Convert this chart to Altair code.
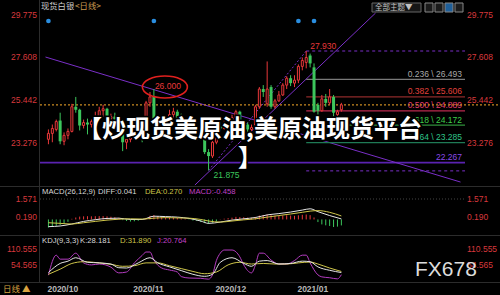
import altair as alt
import pandas as pd

# ---------------- data ----------------
opens = [23.45, 23.75, 23.95, 24.40, 23.35, 23.65, 23.85, 25.10, 24.95, 24.15,
         24.30, 24.20, 24.35, 24.60, 24.90, 25.00, 24.50, 24.60, 24.45, 24.20,
         23.30, 23.45, 23.70, 24.00, 24.25, 23.90, 25.30, 25.60, 24.15, 24.00,
         24.20, 24.35, 24.70, 24.85, 24.55, 24.30, 24.05, 24.15, 23.50, 23.75,
         23.55, 22.80, 22.60, 23.30, 24.15, 24.00, 24.25, 24.10, 24.55, 24.85,
         24.00, 24.20, 23.95, 24.05, 25.10, 26.00, 25.25, 26.10, 25.10, 25.40,
         25.70, 26.20, 26.55, 26.30, 26.45, 27.15, 27.35, 27.70, 27.10, 25.20,
         24.90, 25.50, 25.30, 25.60, 24.70, 24.95]
highs = [23.95, 24.20, 24.45, 24.80, 23.80, 24.00, 25.25, 25.60, 25.00, 24.45,
         24.50, 24.45, 24.85, 25.10, 25.20, 25.05, 24.75, 24.80, 24.60, 24.30,
         23.70, 23.80, 24.10, 24.45, 24.30, 25.40, 25.85, 26.00, 24.35, 24.30,
         24.45, 24.95, 25.05, 24.95, 24.75, 24.35, 24.25, 24.20, 23.90, 23.95,
         23.60, 22.95, 23.45, 24.25, 24.35, 24.40, 24.35, 24.70, 24.95, 24.90,
         24.30, 24.30, 24.20, 25.20, 26.10, 26.20, 27.40, 26.20, 25.50, 25.90,
         26.30, 26.65, 26.70, 26.70, 27.25, 27.60, 27.93, 27.80, 27.30, 25.30,
         25.70, 25.75, 26.00, 25.70, 24.95, 25.30]
lows = [23.20, 23.30, 23.85, 23.20, 23.15, 23.45, 23.80, 24.80, 23.90, 24.00,
        23.70, 24.05, 24.15, 24.50, 24.60, 24.35, 24.30, 24.30, 24.00, 22.85,
        22.95, 23.30, 23.55, 23.85, 23.30, 23.85, 25.10, 23.85, 23.55, 23.90,
        24.05, 24.20, 24.45, 24.40, 24.05, 23.90, 23.85, 23.40, 23.40, 23.40,
        22.70, 21.875, 22.50, 23.20, 23.85, 23.95, 23.90, 24.05, 24.45, 23.90,
        23.80, 23.70, 23.60, 23.95, 25.00, 25.60, 25.10, 25.00, 25.00, 25.35,
        25.65, 26.00, 26.15, 26.10, 26.30, 26.95, 27.05, 27.10, 24.80, 24.45,
        24.85, 25.10, 25.20, 24.60, 24.50, 24.85]
closes = [23.75, 24.00, 24.35, 23.35, 23.65, 23.85, 25.10, 24.95, 24.15, 24.30,
          24.20, 24.35, 24.60, 24.90, 25.00, 24.50, 24.60, 24.45, 24.20, 23.30,
          23.45, 23.70, 24.00, 24.25, 23.90, 25.30, 25.60, 24.15, 24.00, 24.20,
          24.35, 24.70, 24.85, 24.55, 24.30, 24.05, 24.15, 23.50, 23.75, 23.55,
          22.80, 22.60, 23.30, 24.15, 24.00, 24.25, 24.10, 24.55, 24.85, 24.00,
          24.20, 23.95, 24.05, 25.10, 26.00, 25.85, 26.00, 25.10, 25.40, 25.70,
          26.20, 26.55, 26.30, 26.45, 27.15, 27.45, 27.60, 27.30, 24.85, 24.90,
          25.50, 25.30, 25.60, 24.80, 24.85, 25.20]

macd_hist = [-0.62, -0.55, -0.48, -0.42, -0.32, -0.18,
             0.05, 0.15, 0.22, 0.24, 0.25, 0.24, 0.25, 0.26, 0.26, 0.24, 0.21, 0.17, 0.12,
             -0.05, -0.12, -0.16, -0.14, -0.10, -0.04,
             0.12, 0.28, 0.34, 0.26,
             0.20, 0.17, 0.15, 0.14, 0.12, 0.08, 0.04,
             -0.03, -0.08, -0.12, -0.20, -0.28, -0.33, -0.25, -0.15,
             0.02, 0.06, 0.10, 0.14, 0.20, 0.18, 0.17, 0.14, 0.13, 0.20,
             0.30, 0.34, 0.38, 0.33, 0.30, 0.30, 0.30, 0.32, 0.30, 0.28,
             0.32, 0.36, 0.38, 0.33, 0.15,
             -0.20, -0.38, -0.45, -0.50, -0.58, -0.55, -0.458]

diff_idx = [0, 3, 6, 9, 12, 15, 18, 21, 24, 27, 30, 33, 36, 39, 41, 44, 47, 50, 53,
            56, 59, 62, 65, 67, 69, 72, 75]
diff_val = [-0.55, -0.50, -0.35, -0.15, -0.02, 0.08, 0.10, 0.00, 0.00, 0.25, 0.22,
            0.18, 0.08, -0.12, -0.30, -0.20, -0.05, 0.05, 0.15, 0.35, 0.45, 0.57,
            0.72, 0.82, 0.60, 0.30, 0.041]
dea_idx = diff_idx
dea_val = [-0.25, -0.30, -0.35, -0.25, -0.15, -0.05, 0.02, 0.05, 0.03, 0.10, 0.14,
           0.12, 0.10, 0.00, -0.12, -0.20, -0.12, -0.03, 0.05, 0.18, 0.30, 0.42,
           0.55, 0.64, 0.68, 0.55, 0.270]

j_idx = [0, 2, 3, 5, 7, 9, 11, 13, 16, 18, 20, 22, 24, 25, 26, 27, 29, 31, 33, 34,
         36, 39, 41, 42, 43, 44, 45, 47, 49, 50, 52, 53, 54, 55, 57, 59, 61, 63, 65,
         66, 67, 69, 70, 72, 74, 75]
j_val = [19, 89, 75, 75, 96, 62, 55, 58, 47, 27, 30, 62, 88, 100, 100, 72, 44, 37, 30,
         14, 9, 8, 5, 20, 70, 96, 107, 107, 83, 55, 27, 55, 96, 96, 72, 58, 58, 70, 89,
         89, 62, 20, 13, 10, 6, 20.764]
k_idx = [0, 3, 5, 7, 10, 13, 16, 18, 20, 23, 26, 28, 31, 34, 37, 40, 42, 44, 47, 50,
         52, 54, 56, 59, 62, 65, 67, 69, 72, 75]
k_val = [28, 60, 68, 80, 64, 62, 58, 45, 44, 62, 80, 62, 48, 35, 22, 15, 22, 64, 80,
         60, 50, 68, 70, 58, 60, 68, 66, 48, 36, 28.181]
d_idx = [0, 3, 6, 9, 13, 16, 19, 22, 25, 28, 31, 34, 37, 40, 43, 46, 49, 52, 55, 58,
         61, 64, 67, 69, 72, 75]
d_val = [22, 40, 60, 66, 62, 57, 50, 52, 62, 62, 52, 42, 32, 24, 30, 55, 64, 58, 60,
         58, 58, 62, 65, 58, 44, 31.89]

price_ticks = [29.775, 27.608, 25.442, 23.276]
macd_ticks = [1.571, 0.190]
kdj_ticks = [110.555, 54.565]
date_labels = ["2020/10", "2020/11", "2020/12", "2021/01"]
date_label_idx = [0, 22, 43, 64]
event_idx = [0, 27, 64, 68]

fib_ratios = ["0.236", "0.382", "0.500", "0.618", "0.764"]
fib_prices = [26.493, 25.606, 24.889, 24.172, 23.285]
fib_line_colors = ["#7a7a7a", "#8e2a2a", "#b8284e", "#2f8f3a", "#1f7a55"]
fib_text_colors = ["#a9a9a9", "#e0403c", "#e23c6e", "#3fcc4a", "#2fc488"]
fib_high, fib_low = 27.930, 21.848
support_price = 22.267
low_price = 21.875
nov_peak_price = 26.000
peak_idx, low_idx, nov_peak_idx = 66, 41, 27

down_line_idx = [-0.75, 105.5]
down_line_price = [27.624, 21.282]
channel_idx = [37.5, 83.75]
channel_price = [21.13, 29.856]

# ---------------- styling ----------------
RED = "#e8383a"
GREEN = "#3cc65c"
AXRED = "#d8383c"
PURPLE = "#7a2fc8"
NUM = "Liberation Sans"
CJK = "Noto Sans CJK SC"

X_SCALE = alt.Scale(domain=[-0.75, 105.5], range=[40.5, 465.5], nice=False, zero=False)
P_SCALE = alt.Scale(domain=[21.0, 30.0], range=[187.6, 10.2], nice=False, zero=False)
M_SCALE = alt.Scale(domain=[-1.3, 2.5], range=[236.4, 186.9], nice=False, zero=False)
K_SCALE = alt.Scale(domain=[-10, 160], range=[283.45, 234.87], nice=False, zero=False)

ONE = pd.DataFrame({"a": [0]})


def X(f):
    return alt.X(f, type="quantitative", scale=X_SCALE, axis=None)


def Y(f, sc):
    return alt.Y(f, type="quantitative", scale=sc, axis=None)


def ptext(txt, x, y, color, size=8.5, align="left", font=NUM, weight="normal"):
    return alt.Chart(ONE).mark_text(text=txt, align=align, baseline="middle",
                                    font=font, fontSize=size, color=color,
                                    fontWeight=weight).encode(
        x=alt.value(x), y=alt.value(y))


def prule(x1, x2, y1, y2, color, width=1, dash=None):
    kw = dict(color=color, strokeWidth=width)
    if dash:
        kw["strokeDash"] = dash
    return alt.Chart(ONE).mark_rule(**kw).encode(
        x=alt.value(x1), x2=alt.value(x2), y=alt.value(y1), y2=alt.value(y2))


layers = []

# frame lines
layers += [
    prule(0, 500, 186.5, 186.5, "#2c2c2c"),
    prule(0, 500, 235.5, 235.5, "#2c2c2c"),
    prule(0, 500, 282.5, 282.5, "#2c2c2c"),
    prule(39.5, 39.5, 0, 283, "#2c2c2c"),
]

# dotted grid in MACD panel
gdf = pd.DataFrame({"v": [macd_ticks[0]]})
layers.append(alt.Chart(gdf).mark_rule(color="#444", strokeDash=[1, 2]).encode(
    x=alt.value(40), x2=alt.value(465), y=Y("v", M_SCALE)))

# horizontal support line
sdf = pd.DataFrame({"p": [support_price], "t": [f"{support_price:.3f}"]})
layers.append(alt.Chart(sdf).mark_rule(color="#5a22b0", strokeWidth=1.6).encode(
    x=alt.value(40), x2=alt.value(465), y=Y("p", P_SCALE)))
layers.append(alt.Chart(sdf).mark_text(align="right", baseline="middle", dy=-5.5,
                                       font=NUM, fontSize=8.5, color="#8a4ae8").encode(
    x=alt.value(462), y=Y("p", P_SCALE), text="t:N"))

# trend lines
dl = pd.DataFrame({"i": down_line_idx, "p": down_line_price})
layers.append(alt.Chart(dl).mark_line(color=PURPLE, strokeWidth=1, clip=False).encode(
    x=X("i"), y=Y("p", P_SCALE)))
cl = pd.DataFrame({"i": channel_idx, "p": channel_price})
layers.append(alt.Chart(cl).mark_line(color=PURPLE, strokeWidth=1).encode(
    x=X("i"), y=Y("p", P_SCALE)))
fl = pd.DataFrame({"i": [low_idx, peak_idx], "p": [low_price, fib_high]})
layers.append(alt.Chart(fl).mark_line(color=PURPLE, strokeWidth=1, strokeDash=[2, 2]).encode(
    x=X("i"), y=Y("p", P_SCALE)))

# fibonacci levels
fdf = pd.DataFrame({"i": [peak_idx] * 5, "p": fib_prices, "lc": fib_line_colors,
                    "tc": fib_text_colors,
                    "t": [f"{r} \\ {p:.3f}" for r, p in zip(fib_ratios, fib_prices)]})
layers.append(alt.Chart(fdf).mark_rule(strokeWidth=1.2).encode(
    x=X("i"), x2=alt.value(465), y=Y("p", P_SCALE), color=alt.Color("lc:N", scale=None)))
layers.append(alt.Chart(fdf).mark_text(align="right", baseline="middle", dy=-5.5,
                                       font=NUM, fontSize=8.5).encode(
    x=alt.value(462), y=Y("p", P_SCALE), text="t:N", color=alt.Color("tc:N", scale=None)))
edf = pd.DataFrame({"i": [peak_idx, peak_idx], "p": [fib_high, fib_low]})
layers.append(alt.Chart(edf).mark_rule(color=PURPLE, strokeDash=[3, 3]).encode(
    x=X("i"), x2=alt.value(465), y=Y("p", P_SCALE)))

# last price dotted line
lp = pd.DataFrame({"p": [closes[-1]]})
layers.append(alt.Chart(lp).mark_rule(color="#c98a22", strokeDash=[2, 2], strokeWidth=1.2).encode(
    x=alt.value(40), x2=alt.value(500), y=Y("p", P_SCALE)))

# candles
cdf = pd.DataFrame({"i": range(len(closes)), "o": opens, "h": highs, "l": lows, "c": closes})
up = cdf[cdf.c >= cdf.o]
dn = cdf[cdf.c < cdf.o]
layers.append(alt.Chart(up).mark_rule(color=RED, strokeWidth=1).encode(
    x=X("i"), y=Y("l", P_SCALE), y2="h:Q"))
layers.append(alt.Chart(dn).mark_rule(color=GREEN, strokeWidth=1).encode(
    x=X("i"), y=Y("l", P_SCALE), y2="h:Q"))
layers.append(alt.Chart(up).mark_bar(size=2, fill="#000", stroke=RED, strokeWidth=1).encode(
    x=X("i"), y=Y("o", P_SCALE), y2="c:Q"))
layers.append(alt.Chart(dn).mark_bar(size=3, color=GREEN).encode(
    x=X("i"), y=Y("o", P_SCALE), y2="c:Q"))

# annotations on candles
ndf = pd.DataFrame({"i": [nov_peak_idx], "p": [nov_peak_price], "t": [f"{nov_peak_price:.3f}"]})
layers.append(alt.Chart(ndf).mark_text(align="center", baseline="middle", dx=14, dy=-3,
                                       font=NUM, fontSize=8.5, color=RED).encode(
    x=X("i"), y=Y("p", P_SCALE), text="t:N"))
layers.append(alt.Chart(ndf).mark_point(
    shape="M -1 0 A 1 0.49 0 1 1 1 0 A 1 0.49 0 1 1 -1 0 Z", size=2025, filled=False,
    color="#e0201e", strokeWidth=1.6, opacity=1, xOffset=11, yOffset=-2).encode(
    x=X("i"), y=Y("p", P_SCALE)))
pdf_ = pd.DataFrame({"i": [peak_idx], "p": [fib_high], "t": [f"{fib_high:.3f}"]})
layers.append(alt.Chart(pdf_).mark_text(align="left", baseline="middle", dx=4, dy=-5,
                                        font=NUM, fontSize=8.5, color=RED).encode(
    x=X("i"), y=Y("p", P_SCALE), text="t:N"))
ldf = pd.DataFrame({"i": [low_idx], "p": [low_price], "t": [f"{low_price:.3f}"]})
layers.append(alt.Chart(ldf).mark_text(align="left", baseline="middle", dx=5, dy=5,
                                       font=NUM, fontSize=8.5, color=GREEN).encode(
    x=X("i"), y=Y("p", P_SCALE), text="t:N"))

# event dots
evdf = pd.DataFrame({"i": event_idx})
layers.append(alt.Chart(evdf).mark_circle(size=22, color="#2a8ee0", opacity=1).encode(
    x=X("i"), y=alt.value(21)))

# price axis labels
pt = pd.DataFrame({"v": price_ticks, "t": [f"{v:.3f}" for v in price_ticks]})
layers.append(alt.Chart(pt).mark_text(align="right", baseline="middle", font=NUM,
                                      fontSize=8.5, color=AXRED).encode(
    x=alt.value(37), y=Y("v", P_SCALE), text="t:N"))
layers.append(alt.Chart(pt).mark_text(align="left", baseline="middle", font=NUM,
                                      fontSize=8.5, color=AXRED).encode(
    x=alt.value(467), y=Y("v", P_SCALE), text="t:N"))

# ---------- MACD panel ----------
mdf = pd.DataFrame({"i": range(len(macd_hist)), "v": macd_hist, "z": [0.0] * len(macd_hist)})
mdf["col"] = [RED if v >= 0 else GREEN for v in macd_hist]
layers.append(alt.Chart(mdf).mark_rule(strokeWidth=1).encode(
    x=X("i"), y=Y("z", M_SCALE), y2="v:Q", color=alt.Color("col:N", scale=None)))
ddf = pd.DataFrame({"i": diff_idx, "v": diff_val})
layers.append(alt.Chart(ddf).mark_line(color="#e6e6e6", strokeWidth=1, interpolate="monotone").encode(
    x=X("i"), y=Y("v", M_SCALE)))
eadf = pd.DataFrame({"i": dea_idx, "v": dea_val})
layers.append(alt.Chart(eadf).mark_line(color="#cfc64a", strokeWidth=1, interpolate="monotone").encode(
    x=X("i"), y=Y("v", M_SCALE)))
mt = pd.DataFrame({"v": macd_ticks, "t": [f"{v:.3f}" for v in macd_ticks]})
layers.append(alt.Chart(mt).mark_text(align="right", baseline="middle", font=NUM,
                                      fontSize=8.5, color=AXRED).encode(
    x=alt.value(37), y=Y("v", M_SCALE), text="t:N"))
layers.append(alt.Chart(mt).mark_text(align="left", baseline="middle", font=NUM,
                                      fontSize=8.5, color=AXRED).encode(
    x=alt.value(467), y=Y("v", M_SCALE), text="t:N"))

# ---------- KDJ panel ----------
for xi, yv, col in [(j_idx, j_val, "#b43cc0"), (d_idx, d_val, "#cfc64a"), (k_idx, k_val, "#e6e6e6")]:
    kd = pd.DataFrame({"i": xi, "v": yv})
    layers.append(alt.Chart(kd).mark_line(color=col, strokeWidth=1, interpolate="monotone").encode(
        x=X("i"), y=Y("v", K_SCALE)))
kt = pd.DataFrame({"v": kdj_ticks, "t": [f"{v:.3f}" for v in kdj_ticks]})
layers.append(alt.Chart(kt).mark_text(align="right", baseline="middle", font=NUM,
                                      fontSize=8.5, color=AXRED).encode(
    x=alt.value(37), y=Y("v", K_SCALE), text="t:N"))
layers.append(alt.Chart(kt).mark_text(align="left", baseline="middle", font=NUM,
                                      fontSize=8.5, color=AXRED).encode(
    x=alt.value(467), y=Y("v", K_SCALE), text="t:N"))

# date labels
dtl = pd.DataFrame({"i": date_label_idx, "t": date_labels})
layers.append(alt.Chart(dtl).mark_text(align="left", baseline="middle", font=NUM,
                                       fontSize=8.5, fontWeight="bold", color="#b8b8b8", dx=-1).encode(
    x=X("i"), y=alt.value(289), text="t:N"))

# ---------- headers / texts ----------
layers += [
    ptext("现货白银", 41, 7, "#cfcfcf", size=8.3, font=CJK),
    ptext("<日线>", 75, 7, "#c89a50", size=8.3, font=CJK),
    ptext("MACD(26,12,9)", 42, 192, "#d8d8d8", size=7.7),
    ptext("DIFF:0.041", 98, 192, "#d8d8d8", size=7.7),
    ptext("DEA:0.270", 145, 192, "#cfc64a", size=7.7),
    ptext("MACD:-0.458", 189, 192, "#c040c8", size=7.7),
    ptext("KDJ(9,3,3)", 42, 241, "#d8d8d8", size=7.7),
    ptext("K:28.181", 80, 241, "#d8d8d8", size=7.7),
    ptext("D:31.890", 120, 241, "#cfc64a", size=7.7),
    ptext("J:20.764", 157, 241, "#c040c8", size=7.7),
    ptext("日线 ▲", 3, 289, "#d9a441", size=8.5, font=CJK),
]

# toolbar
tb = alt.Chart(ONE).mark_rect(fill="#161616", stroke="#666", strokeWidth=1).encode(
    x=alt.value(372), x2=alt.value(421), y=alt.value(3), y2=alt.value(12))
layers.append(tb)
layers.append(ptext("全部主题▼", 375, 7.5, "#c0c0c0", size=7.5, font=CJK))
for k, (x1, fill) in enumerate([(425, "#1a1a1a"), (435, "#1a1a1a"), (445, "#1f5f99"), (455, "#1a1a1a")]):
    layers.append(alt.Chart(ONE).mark_rect(fill=fill, stroke="#888", strokeWidth=1).encode(
        x=alt.value(x1), x2=alt.value(x1 + 8), y=alt.value(3), y2=alt.value(12)))

# watermark
layers.append(ptext("FX678", 415, 270, "#dcdcdc", size=21))

# overlay title
for stroke_layer in (True, False):
    for txt, yy in [("【炒现货美原油,美原油现货平台", 130), ("】", 159)]:
        kw = dict(text=txt, align="center", baseline="middle", font=CJK, fontSize=24,
                  fontWeight="bold")
        if stroke_layer:
            kw.update(color="#000", stroke="#000", strokeWidth=3.5)
        else:
            kw.update(color="#ffffff")
        layers.append(alt.Chart(ONE).mark_text(**kw).encode(x=alt.value(250), y=alt.value(yy)))

chart = alt.layer(*layers).resolve_scale(y="independent", color="independent").properties(
    width=500, height=295, background="#000000", padding=0, autosize="none"
).configure_view(stroke=None)

chart.save("out.html", embed_options={"renderer": "svg", "actions": False})
